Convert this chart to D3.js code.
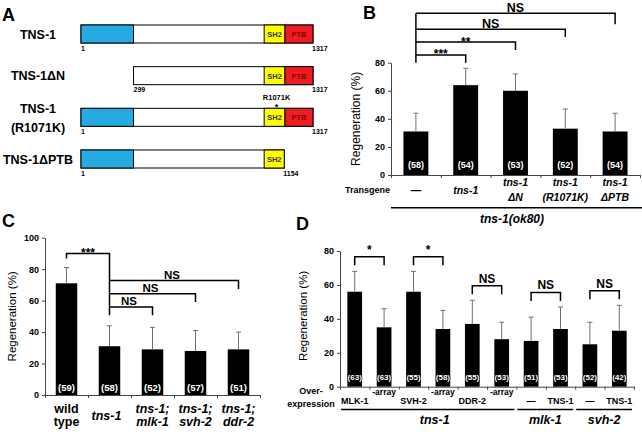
<!DOCTYPE html>
<html><head><meta charset="utf-8">
<script src="https://cdn.jsdelivr.net/npm/d3@7"></script>
<style>
body{margin:0;background:#fff}
svg{display:block;font-family:"Liberation Sans",Arial,Helvetica,sans-serif}
</style></head><body>
<svg id="c" width="642" height="432"></svg>
<script>
// ---------- Panel A data ----------
const aLabels = [["TNS-1"], ["TNS-1ΔN"], ["TNS-1", "(R1071K)"], ["TNS-1ΔPTB"]];
const aStart = [1, 299, 1, 1];
const aEnd = [1317, 1317, 1317, 1154];
const domNames = ["", "SH2", "PTB"];
const domStart = [1, 1040, 1158];
const domEnd = [299, 1158, 1317];
const domColors = ["#27aae1", "#ffff00", "#ee1d23"];
const domText = ["#000", "#333", "#8b0000"];
const mutLabel = "R1071K";
const mutConstruct = 2;
const mutDomain = 1;

// ---------- Panel B data ----------
const bCats = [["—"], ["tns-1"], ["tns-1", "ΔN"], ["tns-1", "(R1071K)"], ["tns-1", "ΔPTB"]];
const bVals = [31, 64, 60, 33, 31];
const bErr = [13, 12, 12, 14, 13];
const bN = [58, 54, 53, 52, 54];
const bTicks = [0, 20, 40, 60, 80];
const bSig = [[0, 1, "***"], [0, 2, "**"], [0, 3, "NS"], [0, 4, "NS"]];

// ---------- Panel C data ----------
const cCats = [["wild", "type"], ["tns-1"], ["tns-1;", "mlk-1"], ["tns-1;", "svh-2"], ["tns-1;", "ddr-2"]];
const cVals = [71, 31, 29, 28, 29];
const cErr = [10, 13, 14, 13, 11];
const cN = [59, 58, 52, 57, 51];
const cTicks = [0, 20, 40, 60, 80, 100];
const cSigMain = [0, 1, "***"];
const cSig = [[1, 2, "NS"], [1, 3, "NS"], [1, 4, "NS"]];

// ---------- Panel D data ----------
const dCats = ["MLK-1", "-array", "SVH-2", "-array", "DDR-2", "-array", "—", "TNS-1", "—", "TNS-1"];
const dVals = [56, 35, 56, 34, 37, 28, 27, 34, 25, 33];
const dErr = [12, 11, 12, 11, 14, 10, 14, 13, 13, 15];
const dN = [63, 63, 55, 58, 55, 53, 51, 53, 52, 42];
const dTicks = [0, 20, 40, 60, 80];
const dGroups = ["tns-1", "mlk-1", "svh-2"];
const dGroupFirst = [0, 6, 8];
const dGroupLast = [5, 7, 9];
const dSig = [[0, 1, "*"], [2, 3, "*"], [4, 5, "NS"], [6, 7, "NS"], [8, 9, "NS"]];

const svg = d3.select("#c");
svg.append("rect").attr("width", 642).attr("height", 432).attr("fill", "#fff");

function panelLetter(t, x, y) {
  svg.append("text").attr("x", x).attr("y", y).text(t)
    .attr("font-size", 18).attr("font-weight", "bold");
}
panelLetter("A", 2, 21);
panelLetter("B", 363, 19);
panelLetter("C", 2, 227);
panelLetter("D", 296, 230);

// ================= Panel A =================
{
  const x = d3.scaleLinear().domain([1, 1317]).range([81, 313]);
  const rowY = d3.scalePoint().domain(d3.range(aLabels.length)).range([25, 150]);
  const h = 18;
  const g = svg.append("g");
  aLabels.forEach((lab, i) => {
    const y0 = rowY(i);
    const s = aStart[i], e = aEnd[i];
    g.append("rect").attr("x", x(s)).attr("y", y0).attr("width", x(e) - x(s)).attr("height", h)
      .attr("fill", "#fff").attr("stroke", "#000").attr("stroke-width", 1);
    domStart.forEach((ds, k) => {
      const a = Math.max(ds, s), b = Math.min(domEnd[k], e);
      if (b - a <= 0) return;
      g.append("rect").attr("x", x(a)).attr("y", y0).attr("width", x(b) - x(a)).attr("height", h)
        .attr("fill", domColors[k]).attr("stroke", "#000").attr("stroke-width", 1);
      if (domNames[k]) {
        g.append("text").attr("x", (x(a) + x(b)) / 2).attr("y", y0 + h / 2 + 3)
          .attr("text-anchor", "middle").attr("font-size", 7.5).attr("font-weight", "bold")
          .attr("fill", domText[k]).text(domNames[k]);
      }
    });
    g.append("text").attr("x", x(s)).attr("y", y0 + h + 7.5).attr("font-size", 7)
      .attr("font-weight", "bold").text(s);
    g.append("text").attr("x", x(e) - 1).attr("y", y0 + h + 7.5).attr("font-size", 7)
      .attr("font-weight", "bold").text(e);
    const lines = lab.length;
    lab.forEach((t, j) => {
      g.append("text").attr("x", 38).attr("y", y0 + h / 2 + 4.5 + (j - (lines - 1) / 2) * 19 + (lines > 1 ? 1 : 0))
        .attr("text-anchor", "middle").attr("font-size", 12.5).attr("font-weight", "bold").text(t);
    });
    if (i === mutConstruct) {
      const mx = (x(domStart[mutDomain]) + x(domEnd[mutDomain])) / 2 + 2;
      g.append("text").attr("x", mx).attr("y", y0 - 8).attr("text-anchor", "middle")
        .attr("font-size", 7.5).attr("font-weight", "bold").text(mutLabel);
      g.append("text").attr("x", mx).attr("y", y0 + 2).attr("text-anchor", "middle")
        .attr("font-size", 9).attr("font-weight", "bold").text("*");
    }
  });
}

// ========== generic bar panel ==========
function barPanel(o) {
  const g = svg.append("g");
  const n = o.vals.length;
  const x = d3.scaleBand().domain(d3.range(n)).range(o.xr).paddingInner(0.5).paddingOuter(0.25);
  const xl = d3.scaleLinear().domain([0, n]).range(o.xr);
  const y = d3.scaleLinear().domain([0, o.ticks[o.ticks.length - 1]]).range(o.yr);
  g.selectAll(".bar").data(o.vals).join("rect")
    .attr("x", (d, i) => x(i)).attr("y", d => y(d))
    .attr("width", x.bandwidth()).attr("height", d => y(0) - y(d)).attr("fill", "#000");
  o.vals.forEach((v, i) => {
    const cx = x(i) + x.bandwidth() / 2;
    g.append("line").attr("x1", cx).attr("x2", cx).attr("y1", y(v)).attr("y2", y(v + o.err[i]))
      .attr("stroke", "#707070").attr("stroke-width", 1);
    g.append("line").attr("x1", cx - 2.5).attr("x2", cx + 2.5).attr("y1", y(v + o.err[i])).attr("y2", y(v + o.err[i]))
      .attr("stroke", "#707070").attr("stroke-width", 1);
    g.append("text").attr("x", cx).attr("y", y(0) - o.nOff).attr("text-anchor", "middle")
      .attr("font-size", o.nSize).attr("font-weight", "bold").attr("fill", "#fff")
      .attr("stroke", "#000").attr("stroke-width", 1.2).attr("paint-order", "stroke")
      .text("(" + o.n[i] + ")");
  });
  const ya = g.append("g").attr("transform", `translate(${o.xr[0]},0)`)
    .call(d3.axisLeft(y).tickValues(o.ticks).tickSize(3).tickSizeOuter(0).tickPadding(3));
  ya.selectAll("text").attr("font-size", 9).attr("font-weight", "bold").attr("fill", "#000")
    .attr("font-family", "'Liberation Sans',Arial,sans-serif");
  const xa = g.append("g").attr("transform", `translate(0,${y(0)})`)
    .call(d3.axisBottom(xl).tickValues(d3.range(n + 1)).tickSize(3).tickSizeOuter(0).tickFormat(""));
  [ya, xa].forEach(a => { a.selectAll("path,line").attr("stroke", "#444"); });
  g.append("text").attr("transform", `translate(${o.ytX},${(o.yr[0] + o.yr[1]) / 2 + o.ytDy}) rotate(-90)`)
    .attr("text-anchor", "middle").attr("font-size", o.ytSize).text("Regeneration (%)");
  return { g, x, y, cx: i => x(i) + x.bandwidth() / 2 };
}

// ================= Panel B =================
{
  const P = barPanel({ vals: bVals, err: bErr, n: bN, ticks: bTicks, xr: [391, 640], yr: [175, 62.7],
    nOff: 7, nSize: 9, ytX: 360, ytDy: 0, ytSize: 12 });
  const { g, y, cx } = P;
  const common = cx(0);
  const top = y(bTicks[bTicks.length - 1]);
  let minLine = top;
  bSig.forEach((s, k) => {
    const yEnd = top - k * 12.8;
    const yLine = yEnd - (k === bSig.length - 1 ? 11 : 7.8);
    minLine = Math.min(minLine, yLine);
    const isStar = s[2].includes("*");
    g.append("path").attr("d", `M${common},${yLine}H${cx(s[1])}V${yEnd}`)
      .attr("fill", "none").attr("stroke", "#000").attr("stroke-width", 1.5);
    g.append("text").attr("x", (common + cx(s[1])) / 2).attr("y", yLine - (isStar ? -3.5 : 1.5))
      .attr("text-anchor", "middle").attr("font-size", isStar ? 12 : 12.5).attr("font-weight", "bold").text(s[2]);
  });
  g.append("line").attr("x1", common).attr("x2", common).attr("y1", minLine).attr("y2", top)
    .attr("stroke", "#000").attr("stroke-width", 1.5);
  g.append("text").attr("x", 390).attr("y", 193).attr("text-anchor", "end")
    .attr("font-size", 9).attr("font-weight", "bold").text("Transgene");
  bCats.forEach((lab, i) => {
    lab.forEach((t, j) => {
      const yy = lab.length === 1 ? 193.5 : 185.5 + j * 15.5;
      g.append("text").attr("x", cx(i)).attr("y", yy).attr("text-anchor", "middle")
        .attr("font-size", 10.5).attr("font-weight", "bold")
        .attr("font-style", t === "—" ? "normal" : "italic").text(t);
    });
  });
  g.append("line").attr("x1", 391).attr("x2", 642).attr("y1", 207.7).attr("y2", 207.7)
    .attr("stroke", "#000").attr("stroke-width", 1.5);
  g.append("text").attr("x", 512).attr("y", 223).attr("text-anchor", "middle")
    .attr("font-size", 12).attr("font-weight", "bold").attr("font-style", "italic").text("tns-1(ok80)");
}

// ================= Panel C =================
{
  const P = barPanel({ vals: cVals, err: cErr, n: cN, ticks: cTicks, xr: [45, 260], yr: [395, 237.7],
    nOff: 4, nSize: 9.5, ytX: 16, ytDy: 0, ytSize: 11.5 });
  const { g, y, cx } = P;
  const a = cSigMain[0], b = cSigMain[1];
  const endA = y(cVals[a] + cErr[a]) - 9;
  const lineMain = endA - 5;
  const common = cx(b);
  const baseEnd = y(cVals[b] + cErr[b]) - 10.5;
  g.append("path").attr("d", `M${cx(a)},${endA}V${lineMain}H${common}V${baseEnd}`)
    .attr("fill", "none").attr("stroke", "#000").attr("stroke-width", 1.5);
  g.append("text").attr("x", (cx(a) + common) / 2).attr("y", lineMain + 3)
    .attr("text-anchor", "middle").attr("font-size", 12).attr("font-weight", "bold").text(cSigMain[2]);
  cSig.forEach((s, k) => {
    const yEnd = baseEnd - k * 13.2;
    const yLine = yEnd - 8.3;
    g.append("path").attr("d", `M${common},${yLine}H${cx(s[1])}V${yEnd}`)
      .attr("fill", "none").attr("stroke", "#000").attr("stroke-width", 1.5);
    g.append("text").attr("x", (common + cx(s[1])) / 2 - 2).attr("y", yLine - 1.5)
      .attr("text-anchor", "middle").attr("font-size", 11.5).attr("font-weight", "bold").text(s[2]);
  });
  cCats.forEach((lab, i) => {
    lab.forEach((t, j) => {
      const yy = lab.length === 1 ? 419.5 : 412.5 + j * 13.5;
      g.append("text").attr("x", cx(i) - (i === 1 ? 3 : 0)).attr("y", yy).attr("text-anchor", "middle")
        .attr("font-size", 12.5).attr("font-weight", "bold")
        .attr("font-style", i === 0 ? "normal" : "italic").text(t);
    });
  });
}

// ================= Panel D =================
{
  const P = barPanel({ vals: dVals, err: dErr, n: dN, ticks: dTicks, xr: [340, 634], yr: [386.7, 251],
    nOff: 7, nSize: 8, ytX: 307, ytDy: -3, ytSize: 11.5 });
  const { g, y, cx } = P;
  dSig.forEach(s => {
    const top = Math.max(dVals[s[0]] + dErr[s[0]], dVals[s[1]] + dErr[s[1]]);
    const yEnd = y(top) - 6;
    const yLine = yEnd - 8.5;
    g.append("path").attr("d", `M${cx(s[0])},${yEnd}V${yLine}H${cx(s[1])}V${yEnd}`)
      .attr("fill", "none").attr("stroke", "#000").attr("stroke-width", 1.5);
    g.append("text").attr("x", (cx(s[0]) + cx(s[1])) / 2).attr("y", yLine - 3)
      .attr("text-anchor", "middle").attr("font-size", 12).attr("font-weight", "bold").text(s[2]);
  });
  dCats.forEach((t, i) => {
    const sup = t.startsWith("-");
    g.append("text").attr("x", cx(i)).attr("y", sup ? 395 : 404).attr("text-anchor", "middle")
      .attr("font-size", sup ? 8.5 : 9).attr("font-weight", "bold").text(t);
  });
  g.append("text").attr("x", 311).attr("y", 393.5).attr("text-anchor", "middle")
    .attr("font-size", 9).attr("font-weight", "bold").text("Over-");
  g.append("text").attr("x", 311).attr("y", 407).attr("text-anchor", "middle")
    .attr("font-size", 9).attr("font-weight", "bold").text("expression");
  const xb = P.x;
  const step = xb.step();
  dGroups.forEach((name, k) => {
    const x1 = xb(dGroupFirst[k]) - step * 0.25 + 1;
    const x2 = xb(dGroupLast[k]) + xb.bandwidth() + step * 0.25 - 2;
    g.append("line").attr("x1", x1).attr("x2", x2).attr("y1", 409.5).attr("y2", 409.5)
      .attr("stroke", "#000").attr("stroke-width", 1.5);
    g.append("text").attr("x", (x1 + x2) / 2 + (k === 0 ? 7 : 0)).attr("y", 424).attr("text-anchor", "middle")
      .attr("font-size", 12.5).attr("font-weight", "bold").attr("font-style", "italic").text(name);
  });
}
</script>
</body></html>
